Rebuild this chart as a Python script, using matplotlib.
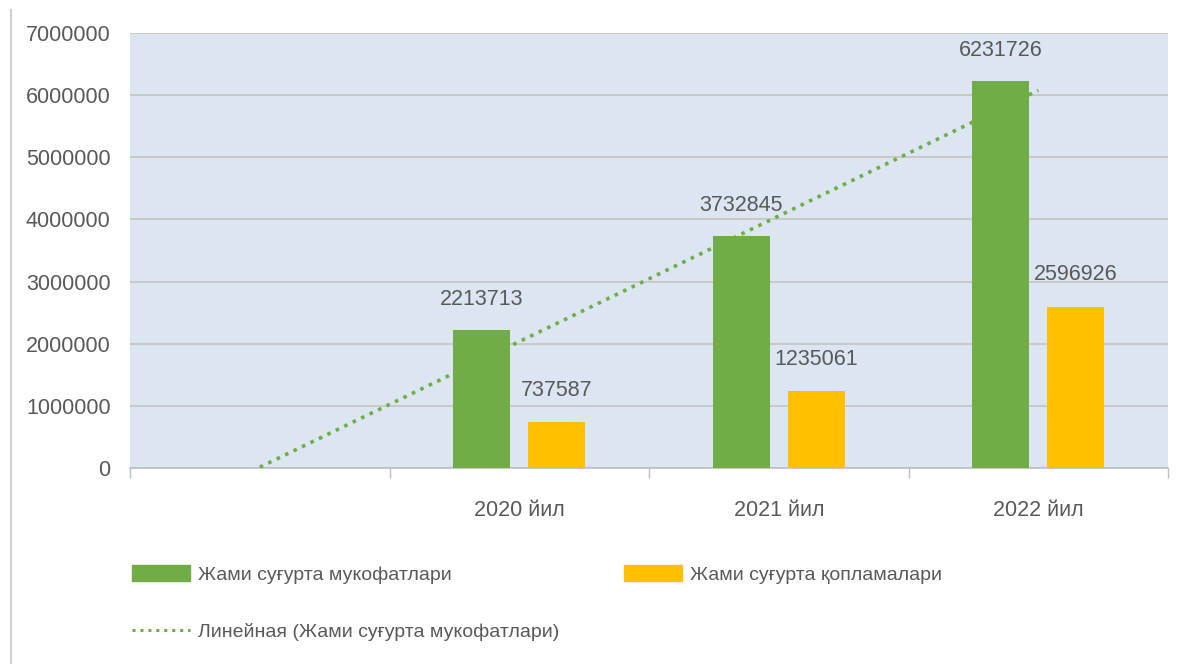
import numpy as np
import matplotlib
matplotlib.use('Agg')
import matplotlib.pyplot as plt
from matplotlib.patches import Patch
from matplotlib.lines import Line2D

# данные
categories = ['', '2020 йил', '2021 йил', '2022 йил']
mukofotlar = [0, 2213713, 3732845, 6231726]
qoplamalar = [0, 737587, 1235061, 2596926]
label_green = 'Жами суғурта мукофатлари'
label_yellow = 'Жами суғурта қопламалари'
label_trend = 'Линейная (Жами суғурта мукофатлари)'
yticks = [0, 1000000, 2000000, 3000000, 4000000, 5000000, 6000000, 7000000]

plt.rcParams['font.family'] = ['Liberation Sans', 'DejaVu Sans']
txt = '#595959'
green = '#70ad47'
yellow = '#ffc000'

fig = plt.figure(figsize=(11.84, 6.64), dpi=100)
ax = fig.add_axes([0.1098, 0.2952, 0.8767, 0.6551])
ax.set_facecolor('#dce6f2')

x = np.arange(len(categories))
w = 0.22
off = 0.144
show = np.array(mukofotlar) > 0
ax.bar(x[show] - off, np.array(mukofotlar)[show], w, color=green, zorder=4)
ax.bar(x[show] + off, np.array(qoplamalar)[show], w, color=yellow, zorder=4)

# подписи значений
for xi, v in zip(x[show], np.array(mukofotlar)[show]):
    ax.annotate(str(v), (xi - off, v), xytext=(0, 22), textcoords='offset points',
                ha='center', va='center', fontsize=15.5, color=txt, zorder=5)
for xi, v in zip(x[show], np.array(qoplamalar)[show]):
    ax.annotate(str(v), (xi + off, v), xytext=(0, 23), textcoords='offset points',
                ha='center', va='center', fontsize=15.5, color=txt, zorder=5)

# линейный тренд
k, b = np.polyfit(x, mukofotlar, 1)
ax.plot(x, k * x + b, color=green, lw=2.6, ls=(0, (1, 1.6)), zorder=3)

ax.set_xlim(-0.5, len(categories) - 0.5)
ax.set_ylim(0, 7000000)
ax.set_yticks(yticks)
ax.set_yticklabels([str(t) for t in yticks])
ax.tick_params(axis='y', length=0, pad=14, labelsize=15.5, labelcolor=txt)
ax.set_xticks(x)
ax.set_xticklabels(categories)
ax.tick_params(axis='x', which='major', length=0, pad=23, labelsize=15.5, labelcolor=txt)
ax.set_xticks(np.arange(-0.5, len(categories), 1), minor=True)
ax.tick_params(axis='x', which='minor', length=7, width=1, color='#bfbfbf')

ax.grid(axis='y', color='#c9c9c9', lw=1.4, zorder=1)
for s in ['top', 'right', 'left']:
    ax.spines[s].set_visible(False)
ax.spines['bottom'].set_color('#bfbfbf')
ax.spines['bottom'].set_linewidth(1.2)

handles = [Patch(color=green), Line2D([], [], color=green, lw=2.2, ls=(0, (1, 1.6))), Patch(color=yellow)]
labels = [label_green, label_trend, label_yellow]
fig.legend(handles, labels, loc='upper left', bbox_to_anchor=(0.1115, 0.1485), ncol=2,
           frameon=False, fontsize=14, labelcolor=txt, handlelength=3.0, handleheight=0.85,
           handletextpad=0.4, columnspacing=3.3, labelspacing=2.0, borderpad=0, borderaxespad=0)

# рамка слева
fig.add_artist(Line2D([0.009, 0.009], [0, 0.985], color='#d0d0d0', lw=1.5, transform=fig.transFigure))

fig.savefig('out.png', dpi=100)
